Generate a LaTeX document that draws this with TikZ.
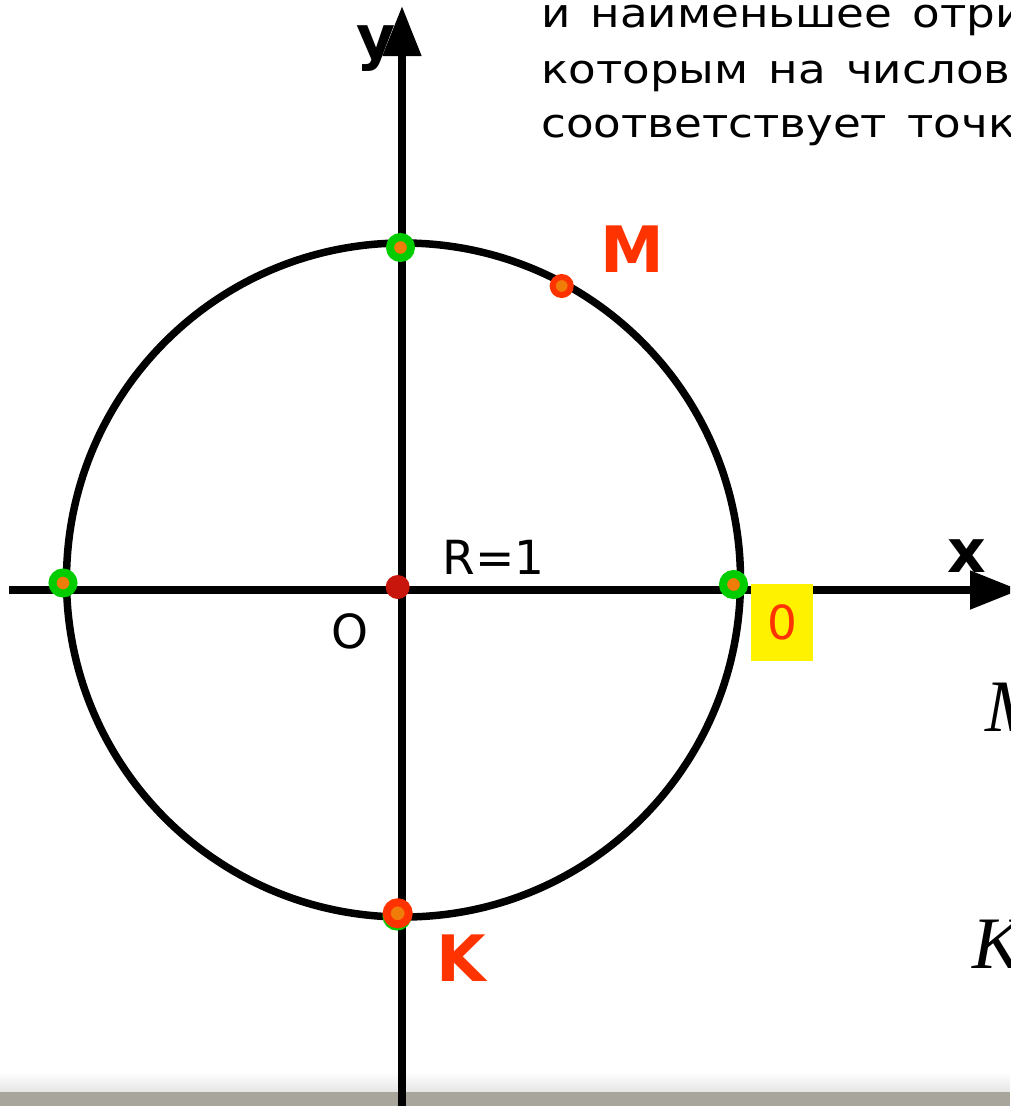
\documentclass[tikz,border=0pt]{standalone}
\usepackage{fontspec}
\setmainfont{DejaVu Sans}
\newfontfamily\timesfont{Liberation Serif}
\newfontfamily\widefont{DejaVu Sans}[FakeStretch=1.13, WordSpace=1.4]
\usetikzlibrary{arrows.meta}

\definecolor{ptgreen}{RGB}{0,204,0}
\definecolor{ptorange}{RGB}{240,125,10}
\definecolor{ptred}{RGB}{255,51,0}
\definecolor{ptdarkred}{RGB}{200,22,12}
\definecolor{bargray}{RGB}{168,165,157}

\begin{document}
\begin{tikzpicture}[x=1pt,y=-1pt,
  axisline/.style={line width=8pt, -{Triangle[length=50pt,width=37pt]}},
  greenpt/.style={circle, inner sep=0pt, minimum size=21pt, fill=ptorange, draw=ptgreen, line width=8pt},
  redpt/.style={circle, inner sep=0pt, fill=ptorange, draw=ptred},
  ptlabel/.style={inner sep=0pt, text=ptred, font=\fontsize{64}{64}\selectfont\bfseries},
  axislabel/.style={inner sep=0pt, font=\fontsize{60}{60}\selectfont\bfseries},
  plain/.style={inner sep=0pt, font=\fontsize{47}{47}\selectfont},
  topline/.style={inner sep=0pt, anchor=base west, font=\fontsize{40}{40}\selectfont\widefont},
  mathlabel/.style={inner sep=0pt, anchor=west, font=\fontsize{74}{74}\selectfont\timesfont\itshape}]
\useasboundingbox (0,0) rectangle (1010,1106);
\clip (0,0) rectangle (1010,1106);
% bottom bar
\shade[top color=white, bottom color=black!10] (0,1072) rectangle (1010,1092);
\fill[bargray] (0,1092) rectangle (1010,1106);
% text at the top
\node[topline] (line1) at (541,27) {и наименьшее отри};
\node[topline] (line2) at (541,83) {которым на числов};
\node[topline] (line3) at (541,137) {соответствует точк};
% circle and axes
\coordinate (C) at (403.5,580);
\draw[line width=7.5pt] (C) circle (337pt);
\coordinate (xstart) at (9,590);
\coordinate (xend) at (1020,590);
\coordinate (ystart) at (402,1110);
\coordinate (yend) at (402,6);
\node[axislabel] (ylab) at (376.5,49) {y};
\node[axislabel] (xlab) at (966.5,556.5) {x};
\draw[axisline] (xstart) -- (xend);
\draw[axisline] (ystart) -- (yend);
% points
\node[greenpt] (ptop) at (400.5,247.5) {};
\node[greenpt] (pleft) at (63,583) {};
\node[greenpt] (pright) at (733.5,584.5) {};
\node[greenpt] (pbottom) at (397,916) {};
\node[redpt, minimum size=18pt, line width=6pt] (ptM) at (561.7,286) {};
\node[redpt, minimum size=22pt, line width=8pt] (ptK) at (397.7,913.3) {};
\node[circle, inner sep=0pt, minimum size=24pt, fill=ptdarkred] (O) at (397.7,587) {};
% labels
\node[ptlabel] (labM) at (632,249) {M};
\node[ptlabel] (labK) at (461.5,958.5) {K};
\node[plain] (labR) at (493.5,557.5) {R=1};
\node[plain] (labO) at (350,631.5) {O};
\node[plain, fill=yellow, text=ptred, minimum width=62pt, minimum height=77pt] (zero) at (782,622.5) {0};
\node[mathlabel] (mathM) at (985,707.5) {M};
\node[mathlabel] (mathK) at (972,944.5) {K};
\end{tikzpicture}
\end{document}
